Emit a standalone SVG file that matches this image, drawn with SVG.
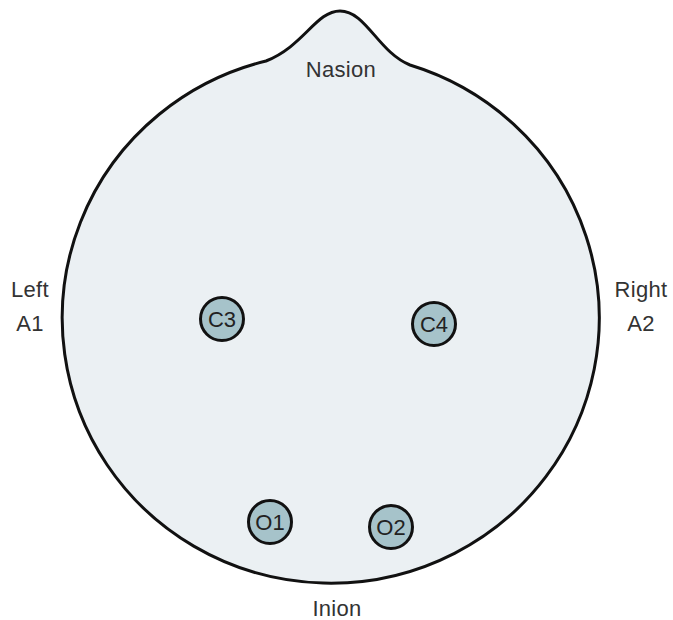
<svg xmlns="http://www.w3.org/2000/svg" width="673" height="620" viewBox="0 0 673 620">
<style>
.lbl{font-family:"Liberation Sans",Arial,sans-serif;font-size:22px;fill:#333;text-anchor:middle;letter-spacing:0.3px}
.el circle{fill:#a6c3ca;stroke:#111;stroke-width:3}
.el text{font-family:"Liberation Sans",Arial,sans-serif;font-size:22px;fill:#222;text-anchor:middle}
</style>
<rect width="673" height="620" fill="#fff"/>
<g id="head">
<path d="M 266 61 A 268.5 265 0 1 0 410 65 C 378 52 366 11 340 11 C 316 11 304 46 266 61 Z" fill="#ebf0f3" stroke="#111" stroke-width="3"/>
</g>
<g id="nasion"><text class="lbl" x="341" y="77">Nasion</text></g>
<g id="left"><text class="lbl" x="30" y="297">Left</text><text class="lbl" x="30" y="331">A1</text></g>
<g id="right"><text class="lbl" x="641" y="297">Right</text><text class="lbl" x="641" y="331">A2</text></g>
<g id="inion"><text class="lbl" x="337" y="616">Inion</text></g>
<g id="C3" class="el"><circle cx="222" cy="319" r="21.5"/><text x="222" y="327">C3</text></g>
<g id="C4" class="el"><circle cx="434" cy="324" r="21.5"/><text x="434" y="332">C4</text></g>
<g id="O1" class="el"><circle cx="270" cy="522" r="21.5"/><text x="270" y="530">O1</text></g>
<g id="O2" class="el"><circle cx="391" cy="527" r="21.5"/><text x="391" y="535">O2</text></g>
<g id="connectors"></g>
</svg>
